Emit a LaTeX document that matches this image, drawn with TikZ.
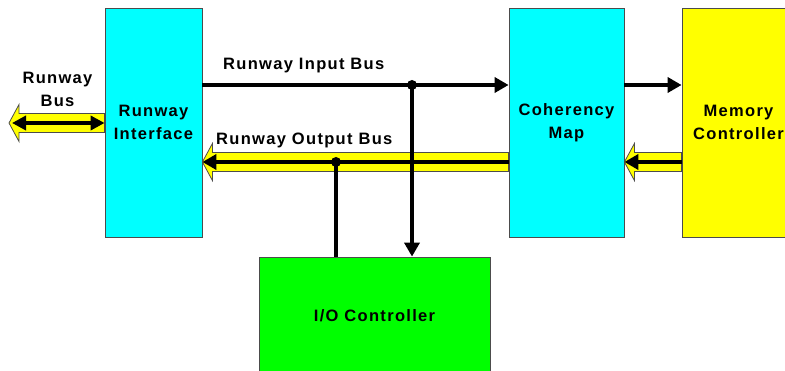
\documentclass[tikz,border=0pt]{standalone}
\usepackage{fontspec}
\newfontfamily\busfont{Liberation Sans}[LetterSpace=8]
\usepackage{tikz}
\usetikzlibrary{arrows.meta, positioning, calc}

\definecolor{boxcyan}{RGB}{0,255,255}
\definecolor{boxyellow}{RGB}{255,255,0}
\definecolor{boxgreen}{RGB}{0,255,0}

% fat yellow bus pointing left, from #1 (tail) to #2 (tip)
\newcommand{\fatbus}[2]{%
  \filldraw[fatbus] ($(#1)+(0,-9.5)$) -- ($(#2)+(10,-9.5)$) -- ($(#2)+(10,-18.5)$)
    -- (#2) -- ($(#2)+(10,18.5)$) -- ($(#2)+(10,9.5)$) -- ($(#1)+(0,9.5)$) -- cycle;}

\begin{document}
\begin{tikzpicture}[x=1pt, y=-1pt,
    unit/.style={draw=black!70, line width=0.8pt, inner sep=0pt, align=center,
      font=\busfont\bfseries\fontsize{16.5}{23}\selectfont},
    lbl/.style={inner sep=0pt, font=\busfont\bfseries\fontsize{16.5}{23}\selectfont},
    bus/.style={line width=4.5pt, -{Triangle[length=14pt, width=15pt]}},
    fatbus/.style={fill=boxyellow, draw=black!70, line width=0.8pt},
    junction/.style={fill=black},
]
    \clip (0,0) rectangle (785,371);

    % units
    \node[unit, fill=boxcyan, minimum width=97pt, minimum height=229pt] (ri) at (153.5,122.5) {Runway\\Interface};
    \node[unit, fill=boxcyan, minimum width=115pt, minimum height=229pt] (cm) at (566.5,122.5) {Coherency\\Map};
    \node[unit, fill=boxyellow, minimum width=113pt, minimum height=229pt] (mc) at (738.5,122.5) {Memory\\Controller};
    \node[unit, fill=boxgreen, minimum width=231pt, minimum height=117pt] (io) at (374.5,315.5) {I/O Controller};

    % bus levels
    \coordinate (inbus) at (0,85);
    \coordinate (outbus) at (0,162);
    \coordinate (rbus) at (9,123);

    % runway input bus
    \coordinate (j1) at (412,85);
    \draw[bus] (ri.east |- inbus) -- (cm.west |- inbus);
    \draw[bus] (cm.east |- inbus) -- (mc.west |- inbus);
    \node[lbl, anchor=base west] (inlbl) at (223,70) {Runway Input Bus};

    % runway output bus
    \coordinate (j2) at (336,162);
    \fatbus{cm.west |- outbus}{ri.east |- outbus}
    \draw[bus] (cm.west |- outbus) -- (ri.east |- outbus);
    \fatbus{mc.west |- outbus}{cm.east |- outbus}
    \draw[bus] (mc.west |- outbus) -- (cm.east |- outbus);
    \node[lbl, anchor=base west] (outlbl) at (216,145) {Runway Output Bus};

    % taps to I/O controller
    \draw[line width=4.5pt] (j2) -- (j2 |- io.north);
    \draw[bus] (j1) -- (j1 |- io.north);
    \fill[junction] (j1) circle (5pt);
    \fill[junction] (j2) circle (5pt);

    % runway bus
    \fatbus{ri.west |- rbus}{rbus}
    \draw[bus, {Triangle[length=14pt, width=14pt]}-{Triangle[length=14pt, width=14pt]}] ($(rbus)+(3,0)$) -- (ri.west |- rbus);
    \node[lbl, align=center] (rblbl) at (57.5,89) {Runway\\Bus};
\end{tikzpicture}
\end{document}
